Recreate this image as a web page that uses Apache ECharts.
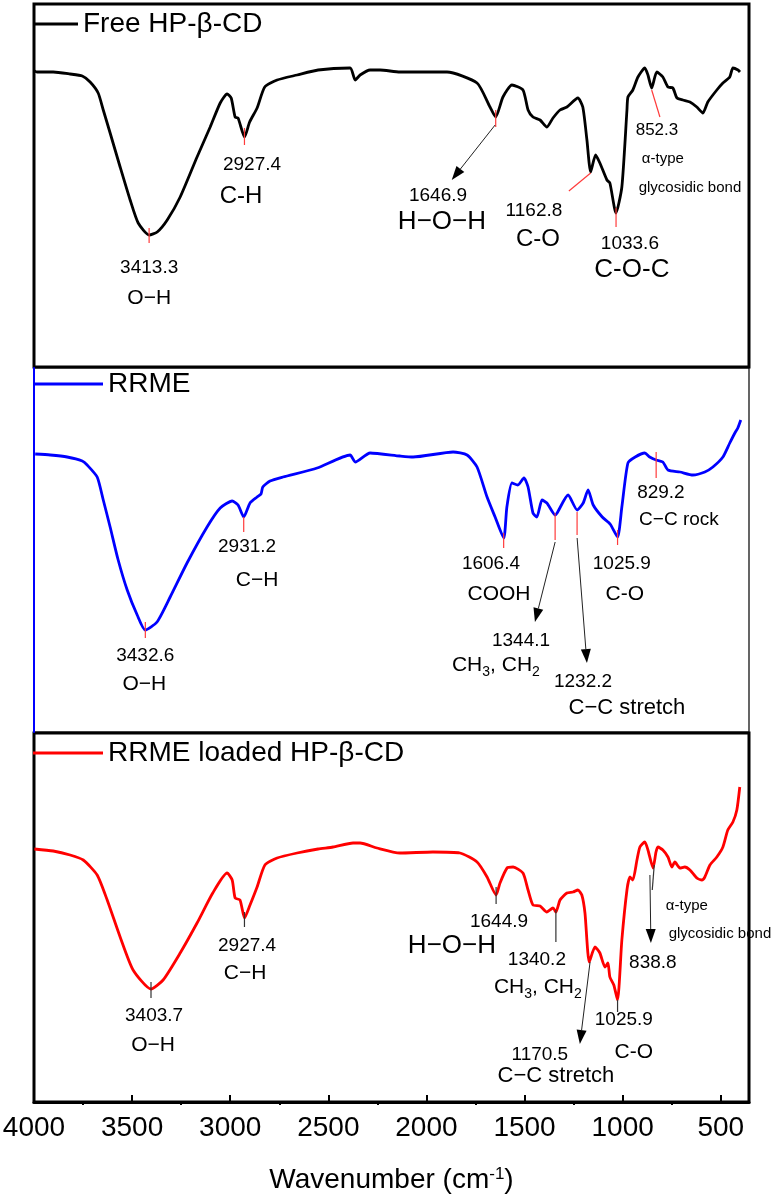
<!DOCTYPE html>
<html>
<head>
<meta charset="utf-8">
<script src="https://cdn.jsdelivr.net/npm/echarts@6/dist/echarts.min.js"></script>
<style>
  html, body { margin: 0; padding: 0; background: #fff; }
  #chart { width: 774px; height: 1198px; }
</style>
</head>
<body>
<div id="chart"></div>
<script>
// FTIR spectra, [wavenumber cm-1, transmittance a.u.]
const freeCD = [
  [3998,296],[3985,295],[3902,295],[3816,293],[3754,291],[3714,285],[3673,274],[3647,257],[3612,234],
  [3561,200],[3510,167],[3469,144],[3413,132],[3372,135],[3321,147],[3255,170],[3169,210],[3102,240],
  [3051,264],[3016,273],[2995,269],[2975,250],[2960,249],[2927,230],[2901,245],[2863,259],[2824,280],
  [2761,287],[2659,292],[2552,297],[2389,299],[2363,287],[2338,292],[2287,297],[2236,297],[2135,295],
  [1895,295],[1742,284],[1676,260],[1647,250],[1610,270],[1564,282],[1508,277],[1482,257],[1457,250],
  [1421,247],[1386,240],[1355,249],[1319,257],[1284,260],[1228,269],[1203,260],[1182,227],[1163,195],
  [1138,212],[1116,204],[1080,187],[1065,184],[1034,154],[1004,180],[978,257],[973,270],[948,277],
  [922,290],[887,299],[871,292],[852,279],[826,295],[795,290],[769,280],[744,279],[723,269],[693,267],
  [657,265],[622,260],[591,254],[566,265],[520,277],[489,284],[454,290],[438,299],[412,297],[402,295]
];
const rrme = [
  [3994,278],[3917,277],[3831,275],[3754,271],[3729,267],[3678,255],[3647,232],[3612,205],[3571,172],
  [3525,142],[3474,117],[3433,102],[3373,110],[3306,135],[3220,169],[3118,205],[3051,224],[2990,231],
  [2960,227],[2931,215],[2899,229],[2863,235],[2843,238],[2834,245],[2797,251],[2731,255],[2557,264],
  [2389,277],[2363,270],[2287,279],[2135,276],[2068,275],[1864,280],[1793,277],[1742,265],[1691,235],
  [1650,215],[1606,194],[1590,225],[1564,249],[1534,247],[1503,254],[1482,245],[1457,219],[1437,215],
  [1411,232],[1386,229],[1344,217],[1334,219],[1278,237],[1232,222],[1201,229],[1176,242],[1150,227],
  [1104,215],[1064,208],[1026,195],[1004,225],[973,269],[936,275],[887,279],[862,275],[829,272],
  [795,270],[769,262],[708,260],[642,257],[581,260],[540,265],[489,275],[454,289],[428,299],[413,304],[398,312]
];
const loadedCD = [
  [3998,253],[3902,251],[3816,247],[3749,242],[3678,227],[3627,202],[3561,165],[3495,132],[3404,113],
  [3342,122],[3255,149],[3169,179],[3089,209],[3016,229],[2990,222],[2975,204],[2950,202],[2927,184],
  [2899,197],[2863,215],[2823,237],[2761,244],[2659,249],[2552,253],[2476,255],[2374,259],[2338,259],
  [2252,254],[2135,249],[1967,250],[1829,249],[1742,240],[1691,225],[1645,207],[1625,219],[1589,234],
  [1558,235],[1508,229],[1482,212],[1457,197],[1421,196],[1386,190],[1355,194],[1340,190],[1319,202],
  [1284,209],[1253,210],[1228,212],[1208,207],[1192,189],[1170,140],[1141,155],[1116,149],[1090,135],
  [1075,139],[1065,125],[1045,117],[1026,102],[1004,162],[978,212],[963,225],[948,222],[927,242],
  [912,255],[887,260],[871,252],[845,234],[830,250],[820,255],[795,252],[769,245],[749,235],[734,240],
  [708,234],[683,235],[657,232],[622,224],[596,222],[581,225],[555,237],[520,245],[489,255],[464,272],
  [438,280],[418,292],[403,315]
];
const majorTicks = [4000, 3500, 3000, 2500, 2000, 1500, 1000, 500];
const minorTicks = [3750, 3250, 2750, 2250, 1750, 1250, 750];

const FONT = '"Liberation Sans", Arial, Helvetica, sans-serif';
const RED = '#ff3b3b';
const X_MIN = 356, X_MAX = 4000;

// peak annotations: [wavenumber, level, text, font size]
const notesFree = [
  [3413, 99, '3413.3', 19], [3413, 69, 'O\u2212H', 21],
  [2889, 202, '2927.4', 19], [2945, 171, 'C-H', 24],
  [1941, 171, '1646.9', 19], [1921, 145, 'H\u2212O\u2212H', 26],
  [1452, 156, '1162.8', 19], [1432, 128, 'C-O', 24],
  [963, 123, '1033.6', 19], [953, 97, 'C-O-C', 26],
  [825, 237, '852.3', 17], [795, 208, '\u03b1-type', 15], [657, 179, 'glycosidic bond', 15]
];
const notesRrme = [
  [3433, 76, '3432.6', 19], [3438, 48, 'O\u2212H', 21],
  [2914, 185, '2931.2', 19], [2863, 152, 'C\u2212H', 21],
  [1671, 168, '1606.4', 19], [1630, 138, 'COOH', 21],
  [1518, 91, '1344.1', 19], [1646, 67, 'CH{s|3}, CH{s|2}', 21],
  [1202, 50, '1232.2', 19], [978, 24, 'C\u2212C stretch', 22],
  [1004, 168, '1025.9', 19], [989, 138, 'C-O', 21],
  [805, 239, '829.2', 19], [713, 212, 'C\u2212C rock', 19]
];
const notesLoaded = [
  [3388, 86, '3403.7', 19], [3393, 57, 'O\u2212H', 21],
  [2914, 156, '2927.4', 19], [2924, 129, 'C\u2212H', 21],
  [1630, 180, '1644.9', 19], [1870, 156, 'H\u2212O\u2212H', 26],
  [1437, 142, '1340.2', 19], [1432, 115, 'CH{s|3}, CH{s|2}', 21],
  [1422, 47, '1170.5', 19], [1340, 26, 'C\u2212C stretch', 22],
  [994, 82, '1025.9', 19], [943, 50, 'C-O', 21],
  [846, 139, '838.8', 19], [673, 196, '\u03b1-type', 15], [504, 168, 'glycosidic bond', 15]
];
// leader lines: [w1, t1, w2, t2, colour, arrowhead]
const marksFree = [
  [3413.3, 139, 3413.3, 124, RED, 0], [2927.4, 239, 2927.4, 222, RED, 0],
  [1646.9, 257, 1646.9, 240, RED, 0], [1033.6, 159, 1033.6, 140, RED, 0],
  [1163, 194, 1274, 176, RED, 0], [852, 277, 810, 250, RED, 0],
  [1650, 242, 1871, 187, '#222', 1]
];
const marksRrme = [
  [3432.6, 110, 3432.6, 94, RED, 0], [2931.2, 215, 2931.2, 200, RED, 0],
  [1606.4, 199, 1606.4, 184, RED, 0], [1344.1, 219, 1344.1, 192, RED, 0],
  [1232.2, 220, 1232.2, 197, RED, 0], [1025.9, 202, 1025.9, 187, RED, 0],
  [829.2, 280, 829.2, 254, RED, 0],
  [1344, 190, 1447, 110, '#222', 1], [1232, 194, 1182, 69, '#222', 1]
];
const marksLoaded = [
  [3403.7, 120, 3403.7, 104, '#333', 0], [2927.4, 190, 2927.4, 175, '#333', 0],
  [1644.9, 215, 1644.9, 198, '#333', 0], [1340.2, 192, 1340.2, 160, '#333', 0],
  [1025.9, 102, 1025.9, 90, '#333', 0], [839, 237, 849, 212, '#333', 0],
  [861, 227, 856, 159, '#222', 1], [1166, 140, 1218, 58, '#222', 1]
];

const RICH = {
  s: { fontSize: 14, fontFamily: FONT, fill: '#000', verticalAlign: 'top', padding: [11, 0, 0, 0], lineHeight: 14 }
};

function noteRenderer(notes) {
  return function (params, api) {
    const n = notes[params.dataIndex];
    const p = api.coord([n[0], n[1]]);
    return {
      type: 'text', x: p[0], y: p[1],
      style: {
        text: n[2], fontSize: n[3], fontFamily: FONT, fill: '#000',
        align: 'center', verticalAlign: 'middle', rich: RICH
      }
    };
  };
}

function markRenderer(marks) {
  return function (params, api) {
    const m = marks[params.dataIndex];
    const a = api.coord([m[0], m[1]]);
    const b = api.coord([m[2], m[3]]);
    const children = [];
    if (m[5]) {
      const dx = b[0] - a[0], dy = b[1] - a[1];
      const len = Math.sqrt(dx * dx + dy * dy);
      const ux = dx / len, uy = dy / len;
      const bx = b[0] - ux * 14, by = b[1] - uy * 14;
      children.push({ type: 'line', shape: { x1: a[0], y1: a[1], x2: bx, y2: by }, style: { stroke: m[4], lineWidth: 1 } });
      children.push({
        type: 'polygon',
        shape: { points: [[b[0], b[1]], [bx - uy * 5, by + ux * 5], [bx + uy * 5, by - ux * 5]] },
        style: { fill: '#000' }
      });
    } else {
      children.push({ type: 'line', shape: { x1: a[0], y1: a[1], x2: b[0], y2: b[1] }, style: { stroke: m[4], lineWidth: 1.2 } });
    }
    return { type: 'group', children: children };
  };
}

function hiddenX(gi) {
  return { type: 'value', gridIndex: gi, min: X_MIN, max: X_MAX, inverse: true, show: false };
}

function spectrum(name, data, idx, color) {
  return {
    name: name, type: 'line', xAxisIndex: idx, yAxisIndex: idx, data: data,
    showSymbol: false, smooth: 0.2,
    lineStyle: { color: color, width: 2.8 }, itemStyle: { color: color }, z: 3
  };
}

function custom(renderer, list, idx) {
  return {
    type: 'custom', xAxisIndex: idx, yAxisIndex: idx, silent: true, z: 5,
    renderItem: renderer, data: list.map(function (r) { return [r[0], r[1]]; })
  };
}

function legendFor(name, left, top, w) {
  return {
    data: [name], left: left, top: top, padding: 0, icon: 'rect',
    itemWidth: w, itemHeight: 3, selectedMode: false,
    textStyle: { fontSize: 28, fontFamily: FONT, color: '#000' }
  };
}

function panel(top, height, bw) {
  return {
    left: 34, top: top, width: 715, height: height, containLabel: false, outerBoundsMode: 'none',
    show: true, borderColor: '#000', borderWidth: bw
  };
}

const chart = echarts.init(document.getElementById('chart'));
chart.setOption({
  animation: false,
  backgroundColor: '#fff',
  legend: [
    legendFor('Free HP-\u03b2-CD', 35, 10, 43),
    legendFor('RRME', 33, 370, 70),
    legendFor('RRME loaded HP-\u03b2-CD', 33, 739, 70)
  ],
  grid: [panel(4, 363, 3), panel(368, 364, 1.2), panel(733, 369, 3)],
  xAxis: [
    hiddenX(0), hiddenX(1),
    {
      type: 'value', gridIndex: 2, min: X_MIN, max: X_MAX, inverse: true,
      axisLine: { show: true, onZero: false, lineStyle: { color: '#000', width: 3 } },
      axisTick: { show: true, inside: true, length: 7, lineStyle: { color: '#000', width: 2 }, customValues: majorTicks },
      axisLabel: {
        show: true, customValues: majorTicks, fontSize: 28, fontFamily: FONT, color: '#000', margin: 12,
        formatter: function (v) { return String(v); }
      },
      splitLine: { show: false },
      name: '{m|Wavenumber (cm}{sup|-1}{m|)}',
      nameLocation: 'middle', nameGap: 64,
      nameTextStyle: {
        rich: {
          m: { fontSize: 28, fontFamily: FONT, color: '#000', lineHeight: 30, verticalAlign: 'top' },
          sup: { fontSize: 17, fontFamily: FONT, color: '#000', lineHeight: 17, verticalAlign: 'top' }
        }
      }
    },
    {
      type: 'value', gridIndex: 2, min: X_MIN, max: X_MAX, inverse: true,
      axisLine: { show: false },
      axisTick: { show: true, inside: true, length: 3, lineStyle: { color: '#000', width: 2 }, customValues: minorTicks },
      axisLabel: { show: false },
      splitLine: { show: false }
    }
  ],
  yAxis: [
    { type: 'value', gridIndex: 0, min: 0, max: 363, show: false },
    {
      type: 'value', gridIndex: 1, min: 0, max: 364,
      axisLine: { show: true, lineStyle: { color: '#0000ff', width: 2 } },
      axisTick: { show: false }, axisLabel: { show: false }, splitLine: { show: false }
    },
    { type: 'value', gridIndex: 2, min: 0, max: 369, show: false }
  ],
  series: [
    spectrum('Free HP-\u03b2-CD', freeCD, 0, '#000000'),
    spectrum('RRME', rrme, 1, '#0000ff'),
    spectrum('RRME loaded HP-\u03b2-CD', loadedCD, 2, '#ff0000'),
    custom(markRenderer(marksFree), marksFree, 0),
    custom(noteRenderer(notesFree), notesFree, 0),
    custom(markRenderer(marksRrme), marksRrme, 1),
    custom(noteRenderer(notesRrme), notesRrme, 1),
    custom(markRenderer(marksLoaded), marksLoaded, 2),
    custom(noteRenderer(notesLoaded), notesLoaded, 2)
  ]
});
</script>
</body>
</html>
